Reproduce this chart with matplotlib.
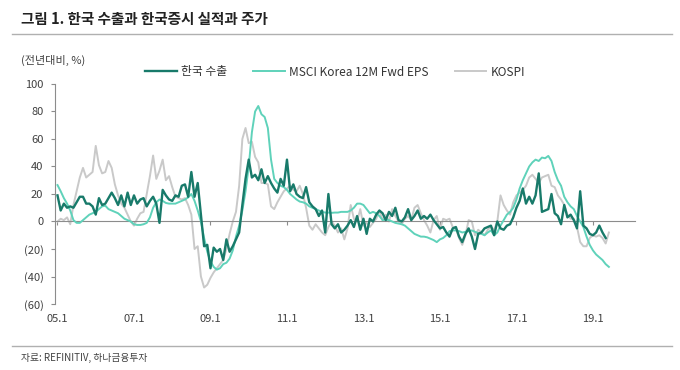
import numpy as np
import matplotlib
matplotlib.use("Agg")
import matplotlib.pyplot as plt
from matplotlib.lines import Line2D

plt.rcParams['font.family'] = ['Noto Sans CJK KR', 'DejaVu Sans']

# monthly yoy %, starting 2005.1
exports = [19, 8, 13, 10, 11, 10, 14, 18, 18, 13,
           13, 11, 5, 17, 12, 13, 17, 21, 17, 12,
           19, 11, 21, 12, 19, 13, 16, 17, 11, 15,
           18, 13, -1, 23, 19, 16, 15, 19, 18, 26,
           27, 18, 36, 18, 28, 5, -18, -17, -34, -19,
           -22, -20, -28, -13, -22, -18, -13, -8, 12, 31,
           45, 32, 34, 30, 38, 28, 33, 28, 24, 21,
           31, 26, 45, 22, 27, 20, 18, 17, 25, 14,
           11, 9, 4, 8, -8, 20, -2, -5, -2, -8,
           -6, -3, 1, -4, 4, -6, 2, -9, 2, 0,
           5, 8, 6, 1, 7, 4, 10, 1, 0, 3,
           9, 1, 4, 8, 2, 4, 2, 5, 1, -2,
           -5, -4, -8, -11, -5, -4, -11, -15, -9, -5,
           -11, -20, -9, -8, -5, -4, -3, -10, 0, -5,
           -6, -3, -2, 3, 10, 15, 24, 13, 18, 13,
           19, 35, 7, 8, 9, 20, 6, 4, -2, 12,
           3, 5, 1, -5, 22, -3, -5, -9, -10, -8,
           -3, -8, -12]
msci_eps = [26.5, 22, 17, 13, 8, 1, -1, -1, 1, 3,
            5, 6, 7, 9, 11, 11.5, 9, 8, 7, 6,
            4, 2, 1, 0, -2, -2.5, -2.5, -2, -1, 3,
            10, 14, 16, 15, 13.5, 13, 13, 13, 14, 15,
            16, 17.5, 20, 15, 8, 0, -12, -22, -29, -33,
            -35, -34, -31, -30, -27, -21, -11, -3, 8, 22,
            40, 65, 80, 84, 78, 76, 68, 45, 31, 28,
            26, 25, 23, 20, 18, 16, 14.5, 14, 13, 11,
            10, 9, 8, 7, 6.5, 6.5, 6.3, 6.5, 6.5, 7,
            7, 7, 8, 10, 13, 13, 12, 9, 6, 7,
            6, 4, 1, 1.5, 1, 0, -1, -1.5, -2, -3,
            -5, -7, -9, -10, -11, -11, -11.5, -12.5, -13.5, -15,
            -13, -12, -10, -7, -6.5, -6.5, -7, -8, -7.5, -7,
            -6.5, -7.5, -8.5, -9, -10, -8, -6.5, -10, -8, -3,
            1, 5, 7, 10, 16, 24, 30, 35, 40, 43,
            45, 44, 46.5, 46, 47.7, 44, 36, 30, 26, 18,
            14, 11, 9, 4, 0, -4, -11, -17, -21, -24,
            -26, -28, -31, -33]
kospi = [0, 2, 1, 3, -2, 12, 22, 32, 39, 32,
         34, 36, 55, 41, 35, 36, 44, 39, 27, 19,
         13, 10, 5, 0, -3, 2, 6, 7, 20, 33,
         48, 31, 37, 45, 30, 33, 25, 18, 17, 16,
         17, 12, 5, -20, -18, -40, -48, -46, -41, -37,
         -34, -31, -28, -20, -9, 0, 7, 26, 60, 68,
         57, 58, 47, 43, 28, 28, 27, 11, 9, 14,
         18, 22, 24, 26, 23, 22, 26, 20, 10, -3,
         -6, -2, -5, -8, -10, -4, 0, -3, -8, -5,
         -13, -5, 12, 2, 0, 9, -3, -1, -4, -1,
         2, 8, 1, 5, 0, 9, 4, 0, -2, 2,
         4, 1, 10, 12, 6, 1, -3, -8, 1, 4,
         -6, 2, 1, 2, -4, -5, -12, -17, -10, 1,
         0, -10, -6, -8, -10, -6, -4, -6, 0, 19,
         12, 8, 5, 14, 19, 21, 23, 26, 32, 34,
         31, 28, 32, 33, 34, 26, 25, 19, 16, 12,
         5, 2, 2, -4, -15, -18, -18, -12, -10, -11,
         -10, -12, -16, -8]

tick_months = [0, 24, 48, 72, 96, 120, 144, 168]
tick_labels = ["05.1", "07.1", "09.1", "11.1", "13.1", "15.1", "17.1", "19.1"]
y_ticks = [100, 80, 60, 40, 20, 0, -20, -40, -60]
y_labels = ["100", "80", "60", "40", "20", "0", "(20)", "(40)", "(60)"]

W, H = 680, 370
fig = plt.figure(figsize=(W / 100, H / 100), dpi=100)
ax = fig.add_axes([54.5 / W, 66 / H, 580.5 / W, 220 / H])

# lines, gray first so the teal ones sit on top
l_kospi, = ax.plot(np.arange(len(kospi)), kospi, color="#c9c9c9", lw=1.4, zorder=2, label="KOSPI")
l_msci, = ax.plot(np.arange(len(msci_eps)), msci_eps, color="#5fd2ba", lw=1.4, zorder=3,
                  label="MSCI Korea 12M Fwd EPS")
l_exp, = ax.plot(np.arange(len(exports)), exports, color="#187a6a", lw=1.7, zorder=4, label="한국 수출")

ax.set_xlim(-0.94, 181.2)
ax.set_ylim(-60, 100)

# axis styling
axis_gray = "#8c8c8c"
for side in ["top", "right"]:
    ax.spines[side].set_visible(False)
ax.spines["left"].set_color(axis_gray)
ax.spines["bottom"].set_color(axis_gray)
ax.spines["bottom"].set_position(("data", 0))
ax.set_yticks(y_ticks, y_labels)
ax.set_xticks(tick_months)
ax.tick_params(axis="y", length=3, color=axis_gray, labelsize=8, labelcolor="#404040", pad=5)
ax.tick_params(axis="x", length=3, color=axis_gray, labelbottom=False)

# date labels sit below the plot, not on the zero line
sec = ax.secondary_xaxis("bottom")
sec.set_xticks(tick_months, tick_labels)
sec.spines["bottom"].set_visible(False)
sec.tick_params(length=0, pad=7, labelsize=8, labelcolor="#404040")

# legend
ax.legend(handles=[l_exp, l_msci, l_kospi], loc="center left", ncol=3, frameon=False,
          bbox_to_anchor=(145 / W, 1 - 72 / H), bbox_transform=fig.transFigure,
          borderaxespad=0, borderpad=0, fontsize=8.5, handlelength=2.7,
          handletextpad=0.35, columnspacing=2.2, labelcolor="#333333")

# header / footer
fig.text(21 / W, 1 - 19 / H, "그림 1. 한국 수출과 한국증시 실적과 주가", fontsize=10.5,
         fontweight="bold", va="center", color="#222222")
fig.text(21 / W, 1 - 60 / H, "(전년대비, %)", fontsize=8, va="center", color="#404040")
fig.text(21 / W, 1 - 358 / H, "자료: REFINITIV, 하나금융투자", fontsize=7, va="center", color="#404040")
for y in [34, 346]:
    fig.add_artist(Line2D([12 / W, 672 / W], [1 - y / H, 1 - y / H], color="#b0b0b0", lw=1))

fig.savefig("out.png", dpi=100)
